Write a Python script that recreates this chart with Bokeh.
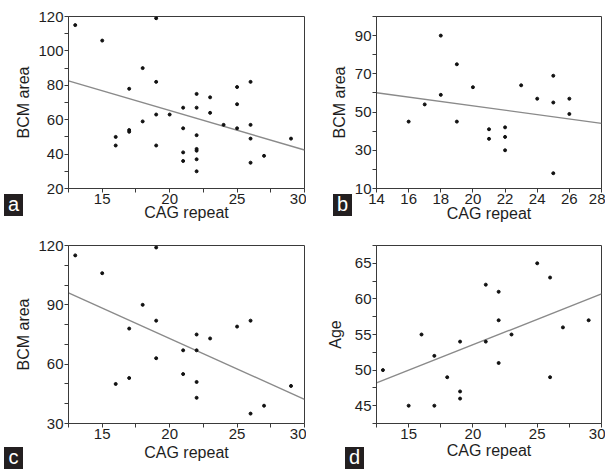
from bokeh.plotting import figure
from bokeh.models import Range1d, FixedTicker, GridBox, Div
from bokeh.embed import file_html
from bokeh.resources import INLINE

# ---------------- data ----------------
# panel a: BCM area vs CAG repeat (all subjects)
a_cag = [13, 15, 19, 18, 19, 17, 25, 26, 22, 23, 21, 22, 25, 23, 19, 20, 18, 17, 17, 21,
         24, 25, 26, 16, 16, 19, 22, 26, 29, 21, 22, 22, 21, 22, 22, 27, 26]
a_bcm = [115, 106, 119, 90, 82, 78, 79, 82, 75, 73, 67, 67, 69, 64, 63, 63, 59, 54, 53, 55,
         57, 55, 57, 50, 45, 45, 51, 49, 49, 41, 43, 42, 36, 37, 30, 39, 35]
a_fit_x = [12.5, 30]
a_fit_y = [82.6, 42.4]
a_xticks = [15, 20, 25, 30]
a_xminor = [12.5, 17.5, 22.5, 27.5]
a_yticks = [20, 40, 60, 80, 100, 120]
a_yminor = [30, 50, 70, 90, 110]

# panel b
b_cag = [18, 19, 20, 18, 17, 16, 19, 21, 21, 22, 22, 22, 23, 24, 25, 25, 25, 26, 26]
b_bcm = [90, 75, 63, 59, 54, 45, 45, 41, 36, 42, 37, 30, 64, 57, 69, 55, 18, 57, 49]
b_fit_x = [14, 28]
b_fit_y = [60.1, 44.1]
b_xticks = [14, 16, 18, 20, 22, 24, 26, 28]
b_xminor = []
b_yticks = [10, 30, 50, 70, 90]
b_yminor = [20, 40, 60, 80, 100]

# panel c
c_cag = [13, 15, 19, 18, 19, 17, 25, 26, 22, 23, 21, 22, 19, 21, 17, 16, 22, 29, 22, 27, 26]
c_bcm = [115, 106, 119, 90, 82, 78, 79, 82, 75, 73, 67, 67, 63, 55, 53, 50, 51, 49, 43, 39, 35]
c_fit_x = [12.5, 30]
c_fit_y = [96.0, 42.2]
c_xticks = [15, 20, 25, 30]
c_xminor = [12.5, 17.5, 22.5, 27.5]
c_yticks = [30, 60, 90, 120]
c_yminor = [40, 50, 70, 80, 100, 110]

# panel d: Age vs CAG repeat
d_cag = [13, 15, 16, 17, 17, 18, 19, 19, 19, 21, 21, 22, 22, 22, 23, 25, 26, 26, 27, 29]
d_age = [50, 45, 55, 52, 45, 49, 54, 47, 46, 62, 54, 61, 57, 51, 55, 65, 63, 49, 56, 57]
d_fit_x = [12.5, 30]
d_fit_y = [48.2, 60.7]
d_xticks = [15, 20, 25, 30]
d_xminor = [12.5, 17.5, 22.5, 27.5]
d_yticks = [45, 50, 55, 60, 65]
d_yminor = [42.5, 47.5, 52.5, 57.5, 62.5, 67.5]

panel_letters = ["a", "b", "c", "d"]

FONT = "Liberation Sans"
AX = "#3a3a3a"
TXT = "#1e1e1e"
BOX = "#231f20"


def panel(xs, ys, fx, fy, xr, yr, xt, xm, yt, ym, ylabel, w, h, bl, br, bt, bb,
          xstand, ystand):
    p = figure(width=w, height=h, x_range=Range1d(*xr), y_range=Range1d(*yr),
               output_backend="svg", toolbar_location=None,
               min_border_left=bl, min_border_right=br,
               min_border_top=bt, min_border_bottom=bb)
    p.grid.visible = False
    p.outline_line_color = AX
    p.outline_line_width = 1
    p.background_fill_color = "white"
    p.border_fill_color = "white"

    p.xaxis.ticker = FixedTicker(ticks=xt, minor_ticks=xm)
    p.yaxis.ticker = FixedTicker(ticks=yt, minor_ticks=ym)
    for ax in (p.xaxis[0], p.yaxis[0]):
        ax.axis_line_color = AX
        ax.major_tick_line_color = AX
        ax.minor_tick_line_color = AX
        ax.major_tick_out = 4
        ax.major_tick_in = 0
        ax.minor_tick_out = 4
        ax.minor_tick_in = 0
        ax.major_label_text_font = FONT
        ax.major_label_text_font_size = "15px"
        ax.major_label_text_color = TXT
        ax.major_label_standoff = 1
        ax.axis_label_text_font = FONT
        ax.axis_label_text_font_size = "16px"
        ax.axis_label_text_font_style = "normal"
        ax.axis_label_text_color = TXT
    p.xaxis.axis_label = "CAG repeat"
    p.xaxis.axis_label_standoff = xstand
    p.yaxis.axis_label = ylabel
    p.yaxis.axis_label_standoff = ystand

    p.line(fx, fy, line_color="#8a8a8a", line_width=1.4)
    p.scatter(xs, ys, size=3, color="#111111", marker="circle")
    return p


def letter(txt, top, left):
    html = ('<div style="width:19px;height:22px;background:%s;color:#ffffff;'
            'font-family:\'Liberation Sans\',Arial,sans-serif;font-size:20px;'
            'line-height:20px;text-align:center;">%s</div>' % (BOX, txt))
    return Div(text=html, width=19, height=22, margin=(top, 0, 0, left))


pa = panel(a_cag, a_bcm, a_fit_x, a_fit_y, (12.5, 30), (20, 120),
           a_xticks, a_xminor, a_yticks, a_yminor, "BCM area",
           306, 236, 68, 2, 16, 44, -3, 3)
pb = panel(b_cag, b_bcm, b_fit_x, b_fit_y, (14, 28), (10, 100),
           b_xticks, b_xminor, b_yticks, b_yminor, "BCM area",
           299, 236, 70, 3, 15, 48, -2, 4)
pc = panel(c_cag, c_bcm, c_fit_x, c_fit_y, (12.5, 30), (30, 120),
           c_xticks, c_xminor, c_yticks, c_yminor, "BCM area",
           306, 237, 68, 2, 9, 48, 2, 3)
pd = panel(d_cag, d_age, d_fit_x, d_fit_y, (12.5, 30), (42.5, 67.5),
           d_xticks, d_xminor, d_yticks, d_yminor, "Age",
           299, 237, 64, 4, 9, 50, 0, 8)

la = letter(panel_letters[0], 194, 4)
lb = letter(panel_letters[1], 194, 27)
lc = letter(panel_letters[2], 211, 4)
ld = letter(panel_letters[3], 211, 39)

grid = GridBox(children=[(pa, 0, 0), (pb, 0, 1), (pc, 1, 0), (pd, 1, 1),
                         (la, 0, 0), (lb, 0, 1), (lc, 1, 0), (ld, 1, 1)])

open("out.html", "w").write(file_html(grid, INLINE))
